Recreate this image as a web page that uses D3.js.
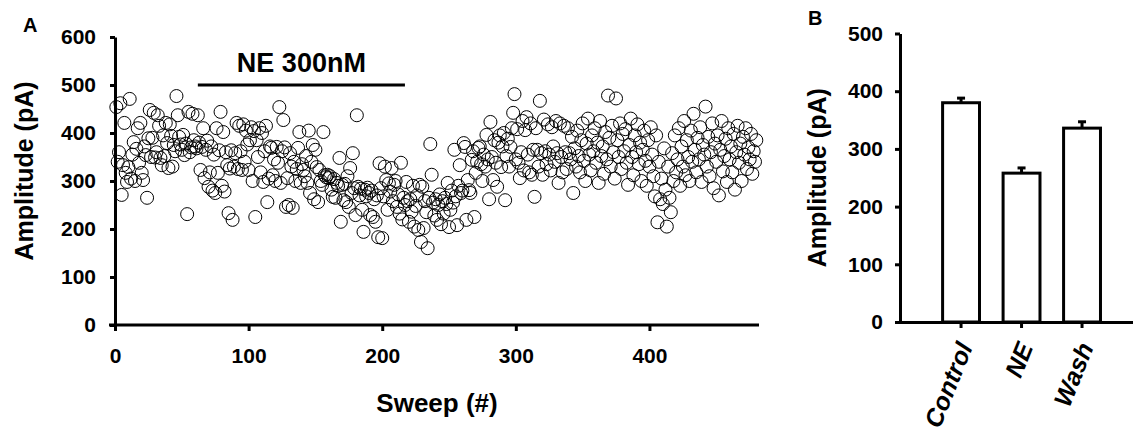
<!DOCTYPE html>
<html>
<head>
<meta charset="utf-8">
<script src="https://cdn.jsdelivr.net/npm/d3@7"></script>
<style>
  html, body { margin: 0; padding: 0; background: #fff; }
  svg { display: block; }
  text { font-family: "Liberation Sans", Arial, sans-serif; font-weight: bold; fill: #000; }
</style>
</head>
<body>
<svg id="chart" width="1133" height="436"></svg>
<script>
// Panel A: peak amplitude of each sweep (pA), sweep number = index + 1
const amplitudes = [
  454,340,360,462,271,333,421,317,298,329,471,305,355,381,300,367,410,338,421,317,
  302,372,354,265,389,448,350,390,442,349,360,437,415,348,333,395,352,421,379,327,
  418,394,330,375,362,477,437,392,376,365,396,354,378,231,444,360,370,440,385,372,
  368,437,380,323,371,410,306,365,384,288,318,372,280,355,275,410,317,364,444,290,
  402,278,360,333,233,326,364,219,330,358,421,325,415,362,323,418,340,405,376,323,
  385,412,300,404,225,385,350,410,318,400,298,362,415,256,305,372,369,312,345,300,
  371,338,454,296,362,427,370,246,306,250,358,330,244,340,300,325,369,402,296,335,
  323,310,352,296,405,275,340,375,262,365,329,256,323,300,292,402,312,308,313,306,
  310,282,267,304,265,296,290,348,215,292,260,294,256,310,246,327,275,358,285,229,
  437,288,270,284,240,194,282,268,286,275,229,280,225,262,215,270,183,337,285,181,
  268,330,302,240,295,278,327,258,292,300,246,272,232,338,220,265,250,298,258,215,
  262,236,290,205,248,270,198,292,173,288,202,258,235,160,265,377,313,255,228,262,
  219,250,272,210,258,232,265,252,296,204,240,280,255,365,268,208,290,333,275,280,
  379,371,219,302,281,275,344,362,225,317,340,369,372,335,300,355,330,396,345,262,
  423,350,302,385,338,288,380,395,329,372,400,260,352,388,330,371,410,442,481,345,
  408,338,306,360,425,322,406,433,355,318,420,313,365,267,410,365,330,467,358,313,
  428,362,335,418,355,322,412,372,340,425,358,296,420,350,318,415,360,325,410,358,
  345,392,275,368,330,405,352,318,385,420,342,300,378,430,355,322,395,362,410,338,
  380,296,425,352,372,315,402,345,478,390,330,415,360,305,472,385,350,420,325,398,
  362,408,338,292,375,430,350,312,395,360,418,335,380,300,365,405,342,290,385,330,
  412,355,310,268,395,214,340,262,305,252,368,282,205,330,265,235,358,300,395,318,
  345,410,290,372,330,425,312,385,350,300,405,340,440,365,318,390,345,412,298,375,
  355,455,330,392,310,360,420,285,378,340,395,270,365,425,320,352,388,298,410,345,
  372,318,398,282,360,415,338,378,300,392,355,410,325,370,345,398,315,362,340,385
];

// Drug application window (sweeps) and its label
const drugWindow = [62, 217];
const drugLabel = "NE 300nM";
const drugLevel = 500;

const sweepTicks = [0, 100, 200, 300, 400];
const ampTicksA = [0, 100, 200, 300, 400, 500, 600];

// Panel B: mean amplitude per condition with SEM
const conditions = ["Control", "NE", "Wash"];
const condMeans = [380, 258, 336];
const condSems = [8, 9, 11];
const ampTicksB = [0, 100, 200, 300, 400, 500];

const svg = d3.select("#chart");
svg.append("rect").attr("width", 1133).attr("height", 436).attr("fill", "#fff");

function styleAxis(g, fontSize) {
  g.selectAll("path.domain").attr("stroke", "#000").attr("stroke-width", 3);
  g.selectAll(".tick line").attr("stroke", "#000").attr("stroke-width", 3);
  g.selectAll(".tick text")
    .attr("font-family", "Liberation Sans, Arial, sans-serif")
    .attr("font-weight", "bold")
    .attr("font-size", fontSize)
    .attr("fill", "#000");
}

// ---------- Panel A ----------
const xA = d3.scaleLinear().domain([0, 482]).range([115, 759]);
const yA = d3.scaleLinear().domain([0, 600]).range([325, 37]);

const gxA = svg.append("g")
  .attr("transform", `translate(0,${yA(0)})`)
  .call(d3.axisBottom(xA).tickValues(sweepTicks).tickFormat(d3.format("d"))
    .tickSize(6).tickSizeOuter(0).tickPadding(17));
styleAxis(gxA, 21);
gxA.select("path.domain").attr("d", `M${xA(0) - 6},0H${xA(482)}`);

const gyA = svg.append("g")
  .attr("transform", `translate(${xA(0)},0)`)
  .call(d3.axisLeft(yA).tickValues(ampTicksA).tickFormat(d3.format("d"))
    .tickSize(5).tickSizeOuter(0).tickPadding(14));
styleAxis(gyA, 21);

svg.append("g")
  .selectAll("circle")
  .data(amplitudes)
  .join("circle")
  .attr("cx", (d, i) => xA(i + 1))
  .attr("cy", d => yA(d))
  .attr("r", 6.5)
  .attr("fill", "none")
  .attr("stroke", "#000")
  .attr("stroke-width", 1);

svg.append("line")
  .attr("x1", xA(drugWindow[0])).attr("x2", xA(drugWindow[1]))
  .attr("y1", yA(drugLevel)).attr("y2", yA(drugLevel))
  .attr("stroke", "#000").attr("stroke-width", 3);

svg.append("text")
  .attr("x", (xA(drugWindow[0]) + xA(drugWindow[1])) / 2)
  .attr("y", yA(drugLevel) - 13)
  .attr("text-anchor", "middle")
  .attr("font-size", 27)
  .text(drugLabel);

svg.append("text")
  .attr("transform", `translate(33,${(yA(0) + yA(600)) / 2 - 10}) rotate(-90)`)
  .attr("text-anchor", "middle")
  .attr("font-size", 25)
  .text("Amplitude (pA)");

svg.append("text")
  .attr("x", (xA(0) + xA(482)) / 2)
  .attr("y", 412)
  .attr("text-anchor", "middle")
  .attr("font-size", 26)
  .text("Sweep (#)");

svg.append("text").attr("x", 23).attr("y", 32).attr("font-size", 20).text("A");

// ---------- Panel B ----------
const yB = d3.scaleLinear().domain([0, 500]).range([322, 33.5]);
const xB = d3.scaleBand().domain(conditions).range([896, 1133])
  .paddingInner(0.39).paddingOuter(0.654).align(0.589);

const gxB = svg.append("g")
  .attr("transform", `translate(0,${yB(0)})`)
  .call(d3.axisBottom(xB).tickSize(6).tickSizeOuter(0).tickFormat(""));
styleAxis(gxB, 24);

const gyB = svg.append("g")
  .attr("transform", `translate(900,0)`)
  .call(d3.axisLeft(yB).tickValues(ampTicksB).tickFormat(d3.format("d"))
    .tickSize(5).tickSizeOuter(0).tickPadding(12));
styleAxis(gyB, 21);

const bars = svg.append("g")
  .selectAll("g")
  .data(conditions.map((c, i) => ({ c, m: condMeans[i], e: condSems[i] })))
  .join("g");

bars.append("line")
  .attr("x1", d => xB(d.c) + xB.bandwidth() / 2)
  .attr("x2", d => xB(d.c) + xB.bandwidth() / 2)
  .attr("y1", d => yB(d.m))
  .attr("y2", d => yB(d.m + d.e))
  .attr("stroke", "#000").attr("stroke-width", 3);

bars.append("line")
  .attr("x1", d => xB(d.c) + xB.bandwidth() / 2 - 4)
  .attr("x2", d => xB(d.c) + xB.bandwidth() / 2 + 4)
  .attr("y1", d => yB(d.m + d.e))
  .attr("y2", d => yB(d.m + d.e))
  .attr("stroke", "#000").attr("stroke-width", 3);

bars.append("rect")
  .attr("x", d => xB(d.c))
  .attr("width", xB.bandwidth())
  .attr("y", d => yB(d.m))
  .attr("height", d => yB(0) - yB(d.m))
  .attr("fill", "#fff")
  .attr("stroke", "#000")
  .attr("stroke-width", 3);

svg.append("g")
  .selectAll("text")
  .data(conditions)
  .join("text")
  .attr("transform", d => `translate(${xB(d) + xB.bandwidth() / 2 + 12},347) rotate(-68)`)
  .attr("text-anchor", "end")
  .attr("font-size", 25)
  .attr("font-style", "italic")
  .text(d => d);

svg.append("text")
  .attr("transform", `translate(826,${(yB(0) + yB(500)) / 2}) rotate(-90)`)
  .attr("text-anchor", "middle")
  .attr("font-size", 25)
  .text("Amplitude (pA)");

svg.append("text").attr("x", 808).attr("y", 25).attr("font-size", 20).text("B");
</script>
</body>
</html>
